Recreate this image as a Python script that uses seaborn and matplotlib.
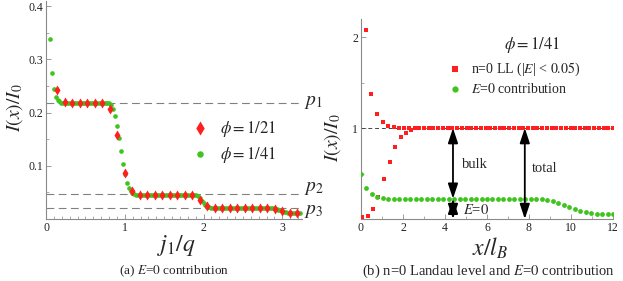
import matplotlib
matplotlib.use("Agg")
import matplotlib.pyplot as plt
import numpy as np
import pandas as pd
import seaborn as sns
from matplotlib.ticker import MultipleLocator

W, H = 623, 281
RED = "#ff1f1f"
GREEN = "#3ec41c"
AXIS = "#8a8a8a"

# ---- panel (a): current vs j1/q, lattice points k/41 and odd k/21
k41 = np.arange(2, 133)
k21 = np.arange(3, 68, 2)
green_a = [
    0.339, 0.274, 0.245, 0.230, 0.224, 0.221,
    0.219, 0.219, 0.219, 0.219, 0.219, 0.219, 0.219, 0.219, 0.219, 0.219,
    0.219, 0.219, 0.219, 0.219, 0.219, 0.219, 0.219, 0.219, 0.219, 0.219,
    0.219, 0.219, 0.219, 0.219, 0.219, 0.219,
    0.215, 0.207, 0.193, 0.175, 0.153, 0.128, 0.104, 0.084, 0.068, 0.058,
    0.052, 0.049, 0.047,
    0.046, 0.046, 0.046, 0.046, 0.046, 0.046, 0.046, 0.046, 0.046, 0.046,
    0.046, 0.046, 0.046, 0.046, 0.046, 0.046, 0.046, 0.046, 0.046, 0.046,
    0.046, 0.046, 0.046, 0.046, 0.046, 0.046, 0.046, 0.046, 0.046, 0.046,
    0.046, 0.045, 0.043, 0.039, 0.034, 0.030, 0.026, 0.023, 0.022,
    0.021, 0.021, 0.021, 0.021, 0.021, 0.021, 0.021, 0.021, 0.021, 0.021,
    0.021, 0.021, 0.021, 0.021, 0.021, 0.021, 0.021, 0.021, 0.021, 0.021,
    0.021, 0.021, 0.021, 0.021, 0.021, 0.021, 0.021, 0.021, 0.021, 0.021,
    0.021, 0.021,
    0.020, 0.019, 0.018, 0.017, 0.016, 0.015, 0.014, 0.013,
    0.012, 0.012, 0.012, 0.012, 0.012, 0.012, 0.012,
]
red_a = [
    0.243, 0.220, 0.219, 0.219, 0.219, 0.219, 0.219, 0.206, 0.158, 0.087,
    0.053, 0.046, 0.046, 0.046, 0.046, 0.046, 0.046, 0.046, 0.045, 0.036,
    0.025, 0.021, 0.021, 0.021, 0.021, 0.021, 0.021, 0.021, 0.020, 0.018,
    0.015, 0.012, 0.012,
]
p_levels = [0.219, 0.047, 0.021]
p_names = ["$p_1$", "$p_2$", "$p_3$"]
p_label_y = [0.219, 0.058, 0.014]

# ---- panel (b): current vs x/lB
green_b_x = np.linspace(0, 12, 47)
green_b = [
    0.500, 0.345, 0.280, 0.245, 0.230, 0.225,
    0.223, 0.223, 0.223, 0.223, 0.223, 0.223, 0.223, 0.223, 0.223, 0.223,
    0.223, 0.223, 0.223, 0.223, 0.223, 0.223, 0.223, 0.223, 0.223, 0.223,
    0.223, 0.223, 0.223,
    0.223, 0.222, 0.221, 0.219, 0.216, 0.209, 0.194, 0.176, 0.157, 0.135,
    0.110, 0.092, 0.073, 0.062, 0.058, 0.055, 0.052, 0.050,
]
red_b_x = [
    0.03, 0.24, 0.32, 0.48, 0.59, 0.75, 0.83, 1.03, 1.11, 1.29, 1.37, 1.56,
    1.63, 1.79, 1.89, 2.05, 2.14, 2.30, 2.40,
    2.55, 2.78, 3.00, 3.23, 3.45, 3.68, 3.90, 4.13, 4.35, 4.58, 4.80, 5.03,
    5.25, 5.48, 5.70, 5.93, 6.15, 6.38, 6.60, 6.83, 7.05, 7.28, 7.50, 7.73,
    7.95, 8.18, 8.40, 8.63, 8.85, 9.08, 9.30, 9.53, 9.75, 9.98, 10.20, 10.43,
    10.65, 10.88, 11.10, 11.33, 11.55, 11.78, 12.00,
]
red_b = [
    0.02, 2.08, 0.03, 1.38, 0.11, 1.15, 0.245, 1.07, 0.44, 1.02, 0.63, 1.01,
    0.79, 1.00, 0.90, 1.00, 0.95, 1.00, 0.98,
    1.0, 1.0, 1.0, 1.0, 1.0, 1.0, 1.0, 1.0, 1.0, 1.0, 1.0, 1.0,
    1.0, 1.0, 1.0, 1.0, 1.0, 1.0, 1.0, 1.0, 1.0, 1.0, 1.0, 1.0,
    1.0, 1.0, 1.0, 1.0, 1.0, 1.0, 1.0, 1.0, 1.0, 1.0, 1.0, 1.0,
    1.0, 1.0, 1.0, 1.0, 1.0, 1.0, 1.0,
]
bulk_x, total_x = 4.38, 7.8
plateau_b, edge_b = 1.0, 0.223


def px_axes(fig, x0, y0, x1, y1):
    return fig.add_axes([x0 / W, 1 - y1 / H, (x1 - x0) / W, (y1 - y0) / H])


def style_axis(ax):
    sns.despine(ax=ax)
    for side in ("left", "bottom"):
        ax.spines[side].set_color(AXIS)
        ax.spines[side].set_linewidth(0.8)
    ax.tick_params(which="both", direction="in", color=AXIS, labelcolor="#222222", labelsize=8.5, pad=2)
    ax.tick_params(which="major", length=3.5, width=0.6)
    ax.tick_params(which="minor", length=2, width=0.5)


def ftext(fig, x, y, s, **kw):
    fig.text(x / W, 1 - y / H, s, ha="center", va="center", **kw)


def main():
    sns.set_style("ticks")
    plt.rcParams["font.family"] = ["Liberation Serif", "DejaVu Serif"]
    plt.rcParams["mathtext.fontset"] = "stix"

    fig = plt.figure(figsize=(W / 100, H / 100), dpi=100)

    # ---------- (a)
    ax = px_axes(fig, 46, 1, 302, 219)
    da_g = pd.DataFrame({"x": k41 / 41, "y": green_a})
    da_r = pd.DataFrame({"x": k21 / 21, "y": red_a})
    for lvl in p_levels:
        ax.axhline(lvl, color="#808080", lw=0.8, ls=(0, (7, 4)), zorder=1, clip_on=False)
    sns.scatterplot(data=da_g, x="x", y="y", ax=ax, color=GREEN, s=11, marker="o",
                    linewidth=0, label=r"$\phi = 1/41$", zorder=3)
    sns.scatterplot(data=da_r, x="x", y="y", ax=ax, color=RED, s=26, marker="d",
                    linewidth=0, label=r"$\phi = 1/21$", zorder=4)
    ax.set_xlim(0, 3.25)
    ax.set_ylim(0, 0.41)
    ax.set_xticks([0, 1, 2, 3], ["0", "1", "2", "3"])
    ax.set_yticks([0.1, 0.2, 0.3, 0.4], ["0.1", "0.2", "0.3", "0.4"])
    ax.xaxis.set_minor_locator(MultipleLocator(0.1))
    ax.yaxis.set_minor_locator(MultipleLocator(0.05))
    ax.set_xlabel("")
    ax.set_ylabel("")
    style_axis(ax)
    h, l = ax.get_legend_handles_labels()
    ax.legend(h[::-1], l[::-1], loc="center left", bbox_to_anchor=(0.51, 0.355),
              frameon=False, fontsize=12, markerscale=1.4, handletextpad=0.2,
              labelspacing=0.35, borderaxespad=0)
    for ly, name in zip(p_label_y, p_names):
        ax.text(3.28, ly, name, fontsize=14, va="center", ha="left", clip_on=False)

    # ---------- (b)
    bx = px_axes(fig, 361, 19, 613, 219)
    db_g = pd.DataFrame({"x": green_b_x, "y": green_b})
    db_r = pd.DataFrame({"x": red_b_x, "y": red_b})
    bx.axhline(plateau_b, color="#444444", lw=0.7, ls=(0, (4, 3)), zorder=1)
    sns.scatterplot(data=db_r, x="x", y="y", ax=bx, color=RED, s=8, marker="s",
                    linewidth=0, label=r"n=0 LL (|$E$| < $\mathit{0.05}$)", zorder=3)
    sns.scatterplot(data=db_g, x="x", y="y", ax=bx, color=GREEN, s=12, marker="o",
                    linewidth=0, label=r"$E$=$\mathit{0}$ contribution", zorder=3)
    bx.set_xlim(0, 12)
    bx.set_ylim(0, 2.2)
    bx.set_xticks([0, 2, 4, 6, 8, 10, 12], ["0", "2", "4", "6", "8", "10", "12"])
    bx.set_yticks([1, 2], ["1", "2"])
    bx.xaxis.set_minor_locator(MultipleLocator(1))
    bx.yaxis.set_minor_locator(MultipleLocator(0.5))
    bx.set_xlabel("")
    bx.set_ylabel("")
    style_axis(bx)
    bx.legend(loc="center left", bbox_to_anchor=(0.295, 0.705), frameon=False,
              fontsize=10, markerscale=1.3, handletextpad=0.2, labelspacing=0.3,
              borderaxespad=0)
    bx.text(0.68, 0.87, r"$\phi = 1/41$", transform=bx.transAxes, fontsize=12,
            ha="center", va="center")

    arrow = dict(arrowstyle="<|-|>,head_length=0.9,head_width=0.3", color="black",
                 lw=1.3, shrinkA=0, shrinkB=0)
    bx.annotate("", xy=(bulk_x, edge_b), xytext=(bulk_x, plateau_b), arrowprops=arrow, zorder=5)
    bx.annotate("", xy=(bulk_x, 0.0), xytext=(bulk_x, edge_b), arrowprops=arrow, zorder=5)
    bx.annotate("", xy=(total_x, 0.0), xytext=(total_x, plateau_b), arrowprops=arrow, zorder=5)
    bx.text(bulk_x + 0.45, 0.6, "bulk", fontsize=10.5, va="center", ha="left")
    bx.text(total_x + 0.35, 0.56, "total", fontsize=10.5, va="center", ha="left")
    bx.text(bulk_x + 0.5, 0.10, r"$E$=$\mathit{0}$", fontsize=10.5, va="center", ha="left")

    # ---------- axis titles and captions
    ftext(fig, 15, 108, r"$I(x)/I_0$", fontsize=14, rotation=90)
    ftext(fig, 333, 138, r"$I(x)/I_0$", fontsize=14, rotation=90)
    ftext(fig, 176, 246, r"$j_1/q$", fontsize=17)
    ftext(fig, 490, 248, r"$x/l_B$", fontsize=17)
    ftext(fig, 174, 271, r"(a) $E$=$\mathit{0}$ contribution", fontsize=9.5)
    ftext(fig, 488, 271, r"(b) n=0 Landau level and $E$=$\mathit{0}$ contribution", fontsize=10.5)

    fig.savefig("out.png", dpi=100)
    plt.close(fig)


if __name__ == "__main__":
    main()
